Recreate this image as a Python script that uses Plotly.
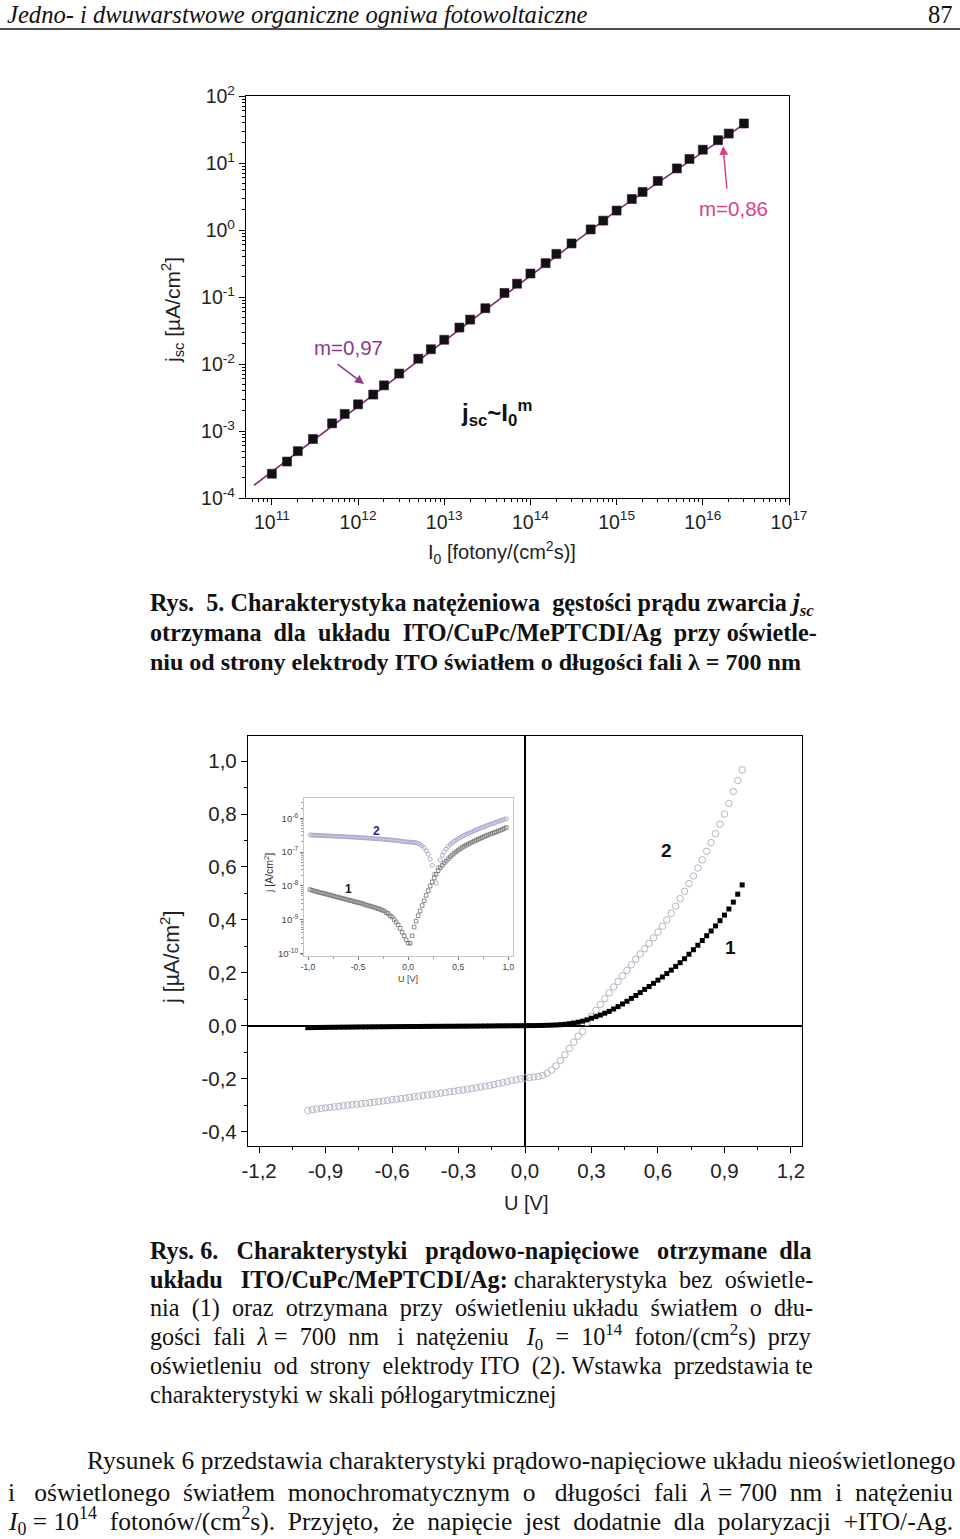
import plotly.graph_objects as go

W, H = 960, 1539

# ---------------- Data: Rys. 5 ----------------
I0 = [1e11, 1.5e11, 2e11, 3e11, 5e11, 7e11,
      1e12, 1.5e12, 2e12, 3e12, 5e12, 7e12,
      1e13, 1.5e13, 2e13, 3e13, 5e13, 7e13,
      1e14, 1.5e14, 2e14, 3e14, 5e14, 7e14,
      1e15, 1.5e15, 2e15, 3e15, 5e15, 7e15,
      1e16, 1.5e16, 2e16, 3e16]
jsc = [2.3e-4, 3.5e-4, 5.0e-4, 7.6e-4, 1.3e-3, 1.8e-3,
       2.5e-3, 3.5e-3, 4.8e-3, 7.2e-3, 1.2e-2, 1.66e-2,
       2.3e-2, 3.5e-2, 4.6e-2, 6.8e-2, 0.115, 0.158,
       0.224, 0.32, 0.44, 0.63, 1.02, 1.38,
       1.95, 2.9, 3.7, 5.4, 8.3, 11.5,
       15.8, 21.9, 27.5, 38.9]
fit_I = [6.2e10, 1e15, 3.2e16]
fit_j = [1.55e-4, 1.95, 40.0]

top_xticks = [1e11, 1e12, 1e13, 1e14, 1e15, 1e16, 1e17]
top_xtext = ["10<sup>11</sup>", "10<sup>12</sup>", "10<sup>13</sup>", "10<sup>14</sup>",
             "10<sup>15</sup>", "10<sup>16</sup>", "10<sup>17</sup>"]
top_yticks = [1e-4, 1e-3, 1e-2, 1e-1, 1e0, 1e1, 1e2]
top_ytext = ["10<sup>-4</sup>", "10<sup>-3</sup>", "10<sup>-2</sup>", "10<sup>-1</sup>",
             "10<sup>0</sup>", "10<sup>1</sup>", "10<sup>2</sup>"]

# ---------------- Data: Rys. 6 ----------------
U = [-0.98, -0.96, -0.94, -0.92, -0.90, -0.88, -0.86, -0.84, -0.82, -0.80,
     -0.78, -0.76, -0.74, -0.72, -0.70, -0.68, -0.66, -0.64, -0.62, -0.60,
     -0.58, -0.56, -0.54, -0.52, -0.50, -0.48, -0.46, -0.44, -0.42, -0.40,
     -0.38, -0.36, -0.34, -0.32, -0.30, -0.28, -0.26, -0.24, -0.22, -0.20,
     -0.18, -0.16, -0.14, -0.12, -0.10, -0.08, -0.06, -0.04, -0.02, 0.00,
     0.02, 0.04, 0.06, 0.08, 0.10, 0.12, 0.14, 0.16, 0.18, 0.20,
     0.22, 0.24, 0.26, 0.28, 0.30, 0.32, 0.34, 0.36, 0.38, 0.40,
     0.42, 0.44, 0.46, 0.48, 0.50, 0.52, 0.54, 0.56, 0.58, 0.60,
     0.62, 0.64, 0.66, 0.68, 0.70, 0.72, 0.74, 0.76, 0.78, 0.80,
     0.82, 0.84, 0.86, 0.88, 0.90, 0.92, 0.94, 0.96, 0.98]
j_dark = [-0.0077, -0.0074, -0.0071, -0.0068, -0.0066, -0.0063, -0.0061, -0.0059, -0.0057, -0.0055,
          -0.0053, -0.0051, -0.0049, -0.0047, -0.0046, -0.0044, -0.0043, -0.0041, -0.0040, -0.0038,
          -0.0037, -0.0036, -0.0034, -0.0033, -0.0032, -0.0031, -0.0030, -0.0028, -0.0027, -0.0026,
          -0.0025, -0.0024, -0.0023, -0.0022, -0.0021, -0.0020, -0.0019, -0.0018, -0.0016, -0.0015,
          -0.0013, -0.0012, -0.0010, -0.00085, -0.00070, -0.00055, -0.00042, -0.00033, -0.00025, -0.00020,
          0.00020, 0.00033, 0.00060, 0.00090, 0.0013, 0.0018, 0.0026, 0.0036, 0.0052, 0.0072,
          0.0098, 0.013, 0.017, 0.022, 0.028, 0.034, 0.040, 0.047, 0.054, 0.063,
          0.072, 0.082, 0.092, 0.103, 0.114, 0.125, 0.137, 0.148, 0.160, 0.172,
          0.184, 0.197, 0.210, 0.224, 0.238, 0.253, 0.270, 0.287, 0.304, 0.322,
          0.340, 0.358, 0.377, 0.397, 0.418, 0.441, 0.467, 0.497, 0.532]
j_light = [-0.321, -0.318, -0.315, -0.313, -0.311, -0.309, -0.307, -0.305, -0.303, -0.301,
           -0.299, -0.297, -0.295, -0.293, -0.291, -0.289, -0.287, -0.285, -0.283, -0.280,
           -0.278, -0.276, -0.274, -0.271, -0.269, -0.267, -0.264, -0.262, -0.260, -0.258,
           -0.255, -0.253, -0.250, -0.248, -0.245, -0.243, -0.240, -0.238, -0.235, -0.232,
           -0.229, -0.226, -0.223, -0.219, -0.216, -0.212, -0.208, -0.205, -0.201, -0.198,
           -0.196, -0.194, -0.192, -0.188, -0.180, -0.168, -0.152, -0.132, -0.110, -0.086,
           -0.062, -0.040, -0.022, 0.012, 0.035, 0.058, 0.080, 0.102, 0.124, 0.146,
           0.167, 0.188, 0.209, 0.230, 0.251, 0.271, 0.291, 0.311, 0.332, 0.354,
           0.376, 0.400, 0.425, 0.452, 0.480, 0.508, 0.537, 0.566, 0.596, 0.627,
           0.659, 0.692, 0.726, 0.762, 0.800, 0.840, 0.885, 0.927, 0.967]

bot_xticks = [-1.2, -0.9, -0.6, -0.3, 0.0, 0.3, 0.6, 0.9, 1.2]
bot_xtext = ["-1,2", "-0,9", "-0,6", "-0,3", "0,0", "0,3", "0,6", "0,9", "1,2"]
bot_yticks = [-0.4, -0.2, 0.0, 0.2, 0.4, 0.6, 0.8, 1.0]
bot_ytext = ["-0,4", "-0,2", "0,0", "0,2", "0,4", "0,6", "0,8", "1,0"]
ins_xticks = [-1.0, -0.5, 0.0, 0.5, 1.0]
ins_xtext = ["-1,0", "-0,5", "0,0", "0,5", "1,0"]
ins_yticks = [1e-10, 1e-9, 1e-8, 1e-7, 1e-6]
ins_ytext = ["10<sup>-10</sup>", "10<sup>-9</sup>", "10<sup>-8</sup>", "10<sup>-7</sup>", "10<sup>-6</sup>"]

# inset: |j| converted from uA/cm2 to A/cm2
ins_dark = [abs(v) * 1e-6 for v in j_dark]
ins_light = [abs(v) * 1e-6 for v in j_light]


def px_x(px):
    return px / W


def px_y(py):
    return 1 - py / H


SANS = "Liberation Sans, Arial, sans-serif"
SERIF = "Liberation Serif, Times New Roman, serif"

fig = go.Figure()

# Top chart
fig.add_trace(go.Scatter(x=fit_I, y=fit_j, mode="lines",
                         line=dict(color="#7a2d70", width=1.6),
                         xaxis="x", yaxis="y", showlegend=False))
fig.add_trace(go.Scatter(x=I0, y=jsc, mode="markers",
                         marker=dict(symbol="square", size=9, color="#111111",
                                     line=dict(color="#3a1035", width=0.6)),
                         xaxis="x", yaxis="y", showlegend=False))

# Bottom chart
fig.add_trace(go.Scatter(x=U, y=j_light, mode="markers",
                         marker=dict(symbol="circle-open", size=6.5, color="#b4b4c4",
                                     line=dict(width=1)),
                         xaxis="x2", yaxis="y2", showlegend=False))
fig.add_trace(go.Scatter(x=U, y=j_dark, mode="markers",
                         marker=dict(symbol="square", size=5, color="#000000"),
                         xaxis="x2", yaxis="y2", showlegend=False))

# Inset
fig.add_trace(go.Scatter(x=U, y=ins_light, mode="markers",
                         marker=dict(symbol="circle-open", size=4, color="#9a9ac0",
                                     line=dict(width=0.8)),
                         xaxis="x3", yaxis="y3", showlegend=False))
fig.add_trace(go.Scatter(x=U, y=ins_dark, mode="markers",
                         marker=dict(symbol="square-open", size=3.6, color="#707070",
                                     line=dict(width=0.8)),
                         xaxis="x3", yaxis="y3", showlegend=False))

axis_common = dict(showline=True, linecolor="#000000", linewidth=1.3, mirror=True,
                   ticks="outside", ticklen=6, tickwidth=1, tickcolor="#000000",
                   showgrid=False, zeroline=False, automargin=False)

fig.update_layout(
    template="none",
    width=W, height=H,
    margin=dict(l=0, r=0, t=0, b=0, pad=0, autoexpand=False),
    paper_bgcolor="white", plot_bgcolor="white",
    font=dict(family=SANS, color="#222222"),
    showlegend=False,
    xaxis=dict(axis_common, type="log", range=[10.70, 17.0],
               domain=[px_x(246), px_x(789)], anchor="y",
               tickmode="array", tickvals=top_xticks, ticktext=top_xtext,
               tickfont=dict(family=SANS, size=19.5, color="#222222"),
               minor=dict(dtick="D1", ticks="outside", ticklen=3, tickcolor="#000000")),
    yaxis=dict(axis_common, type="log", range=[-4.0, 2.0],
               domain=[px_y(498), px_y(96)], anchor="x",
               tickmode="array", tickvals=top_yticks, ticktext=top_ytext,
               tickfont=dict(family=SANS, size=19.5, color="#222222"),
               minor=dict(dtick="D1", ticks="outside", ticklen=3, tickcolor="#000000")),
    xaxis2=dict(axis_common, range=[-1.25, 1.25],
                domain=[px_x(248), px_x(802)], anchor="y2",
                tickmode="array", tickvals=bot_xticks, ticktext=bot_xtext,
                tickfont=dict(family=SANS, size=20.5, color="#222222"),
                zeroline=True, zerolinecolor="#000000", zerolinewidth=1.5,
                minor=dict(dtick=0.15, ticks="outside", ticklen=3, tickcolor="#000000")),
    yaxis2=dict(axis_common, range=[-0.455, 1.095],
                domain=[px_y(1146), px_y(736)], anchor="x2",
                tickmode="array", tickvals=bot_yticks, ticktext=bot_ytext,
                tickfont=dict(family=SANS, size=20.5, color="#222222"),
                zeroline=True, zerolinecolor="#000000", zerolinewidth=1.5,
                minor=dict(dtick=0.1, ticks="outside", ticklen=3, tickcolor="#000000")),
    xaxis3=dict(showline=True, linecolor="#c4c4c4", linewidth=1, mirror=True, automargin=False,
                ticks="outside", ticklen=3, tickcolor="#777777", showgrid=False, zeroline=False,
                range=[-1.04, 1.047], domain=[px_x(304), px_x(513)], anchor="y3",
                tickmode="array", tickvals=ins_xticks, ticktext=ins_xtext,
                tickfont=dict(family=SANS, size=8.5, color="#444444"),
                minor=dict(dtick=0.25, ticks="outside", ticklen=2, tickcolor="#999999")),
    yaxis3=dict(showline=True, linecolor="#c4c4c4", linewidth=1, mirror=True, automargin=False,
                ticks="outside", ticklen=3, tickcolor="#777777", showgrid=False, zeroline=False,
                type="log", range=[-10.08, -5.4], domain=[px_y(956), px_y(798)], anchor="x3",
                tickmode="array", tickvals=ins_yticks, ticktext=ins_ytext,
                tickfont=dict(family=SANS, size=9.5, color="#444444"),
                minor=dict(dtick="D1", ticks="outside", ticklen=2, tickcolor="#999999")),
)

ann = []


def txt(x, y, text, size, family=SANS, color="#111111", xanchor="left", angle=0, yanchor="middle"):
    ann.append(dict(x=px_x(x), y=px_y(y), xref="paper", yref="paper", text=text,
                    showarrow=False, xanchor=xanchor, yanchor=yanchor, textangle=angle,
                    font=dict(family=family, size=size, color=color)))


NB = "\u00a0"
S = NB + " "     # slightly wider word gap (justification)
S2 = NB + NB + " "

# Header
txt(5, 14, "<i>Jedno- i dwuwarstwowe organiczne ogniwa fotowoltaiczne</i>", 24.6, SERIF, "#111111")
txt(955, 14, "87", 24.6, SERIF, "#111111", xanchor="right")

# Top chart labels
txt(172, 310, "j<sub>sc</sub> [µA/cm<sup>2</sup>]", 21, SANS, "#222222", xanchor="center", angle=-90)
txt(502, 552, "I<sub>0</sub> [fotony/(cm<sup>2</sup>s)]", 20, SANS, "#222222", xanchor="center")
txt(348, 347, "m=0,97", 20.5, SANS, "#8c3a8c", xanchor="center")
txt(733, 208, "m=0,86", 20.5, SANS, "#e0408a", xanchor="center")
txt(496, 413, "<b>j<sub>sc</sub>~I<sub>0</sub><sup>m</sup></b>", 24, SANS, "#111111", xanchor="center")

# arrows
ann.append(dict(x=px_x(364), y=px_y(384), xref="paper", yref="paper", text="",
                showarrow=True, ax=-28, ay=-21, arrowhead=2, arrowsize=1.2,
                arrowwidth=1.5, arrowcolor="#8c3a8c"))
ann.append(dict(x=px_x(723), y=px_y(146), xref="paper", yref="paper", text="",
                showarrow=True, ax=4, ay=44, arrowhead=2, arrowsize=1.2,
                arrowwidth=1.5, arrowcolor="#e0408a"))

CAP = 24.2
# Caption Rys. 5
txt(148, 604, "<b>Rys." + S + "5. Charakterystyka natężeniowa" + S + "gęstości prądu zwarcia <i>j<sub>sc</sub></i></b>", CAP, SERIF)
txt(148, 633, "<b>otrzymana" + S + "dla" + S + "układu" + S + "ITO/CuPc/MePTCDI/Ag" + S + "przy oświetle-</b>", CAP, SERIF)
txt(148, 662, "<b>niu od strony elektrody ITO światłem o długości fali λ = 700 nm</b>", 24.0, SERIF)

# Bottom chart labels
txt(170, 958, "j [µA/cm<sup>2</sup>]", 21.5, SANS, "#222222", xanchor="center", angle=-90)
txt(526, 1203, "U [V]", 20, SANS, "#222222", xanchor="center")
txt(666, 850, "<b>2</b>", 19, SANS, "#111111", xanchor="center")
txt(730, 947, "<b>1</b>", 19, SANS, "#111111", xanchor="center")
# inset labels
txt(268, 873, "j [A/cm<sup>2</sup>]", 10.5, SANS, "#333333", xanchor="center", angle=-90)
txt(408, 979, "U [V]", 9, SANS, "#444444", xanchor="center")
txt(376, 831, "<b>2</b>", 12, SANS, "#2a2a80", xanchor="center")
txt(348, 889, "<b>1</b>", 12, SANS, "#111111", xanchor="center")

# Caption Rys. 6
txt(148, 1250, "<b>Rys." + NB + "6." + NB * 3 + "Charakterystyki" + NB * 3 + "prądowo-napięciowe" + NB * 3
    + "otrzymane" + NB * 2 + "dla</b>", CAP, SERIF)
txt(148, 1279, "<b>układu" + NB * 3 + "ITO/CuPc/MePTCDI/Ag:</b>" + NB + "charakterystyka" + NB * 2 + "bez" + NB * 2
    + "oświetle-", CAP, SERIF)
txt(148, 1308, "nia" + S + "(1)" + S + "oraz" + S + "otrzymana" + S + "przy" + S + "oświetleniu "
    + "układu" + S + "światłem" + S + "o" + S + "dłu-", CAP, SERIF)
txt(148, 1337, "gości" + S + "fali" + S + "<i>λ</i> =" + S + "700" + S + "nm" + S2 + "i" + S
    + "natężeniu" + S2 + "<i>I</i><sub>0</sub>" + S + "=" + S + "10<sup>14</sup>" + S
    + "foton/(cm<sup>2</sup>s)" + S + "przy", CAP, SERIF)
txt(148, 1366, "oświetleniu" + S + "od" + S + "strony" + S + "elektrody ITO" + S + "(2). Wstawka" + S
    + "przedstawia te", CAP, SERIF)
txt(148, 1394, "charakterystyki w skali półlogarytmicznej", CAP, SERIF)

# Body text
BODY = 25.5
txt(85, 1460, "Rysunek 6 przedstawia charakterystyki prądowo-napięciowe układu nieoświetlonego", BODY, SERIF)
txt(6, 1492, "i" + S2 + "oświetlonego" + S + "światłem" + S + "monochromatycznym" + S + "o" + S2 + "długości" + S
    + "fali" + S + "<i>λ</i> = 700" + S + "nm" + S + "i" + S + "natężeniu", BODY, SERIF)
txt(6, 1521, "<i>I</i><sub>0</sub> = 10<sup>14</sup>" + S + "fotonów/(cm<sup>2</sup>s)." + S + "Przyjęto," + S
    + "że" + S + "napięcie" + S + "jest" + S + "dodatnie" + S + "dla" + S + "polaryzacji" + S + "+ITO/-Ag.", BODY, SERIF)

fig.update_layout(annotations=ann)

# header rule
fig.add_shape(type="line", xref="paper", yref="paper", x0=0, x1=1,
              y0=px_y(29), y1=px_y(29), line=dict(color="#111111", width=1.5))

fig.write_html("out.html",
               config={"displayModeBar": False},
               post_script="document.body.style.margin='0px';document.body.style.padding='0px';"
                           "document.documentElement.style.overflow='hidden';")
